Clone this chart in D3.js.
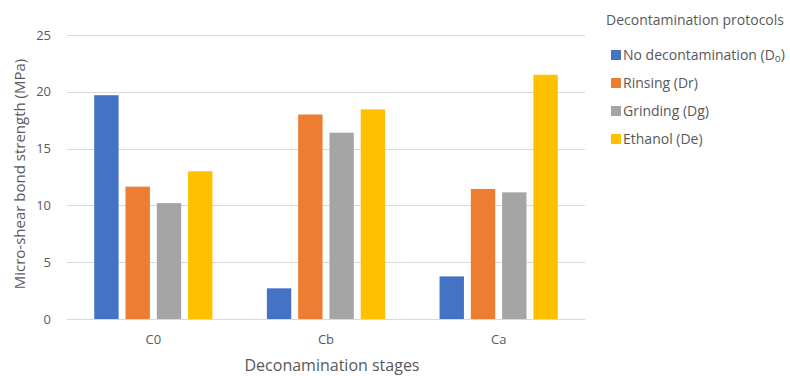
<!DOCTYPE html>
<html><head><meta charset="utf-8">
<script src="https://cdn.jsdelivr.net/npm/d3@7"></script>
<style>body{margin:0;background:#fff;} svg{display:block;} text{font-family:"Open Sans",sans-serif;fill:#595959;}</style>
</head><body><svg id="chart" width="790" height="376"></svg>
<script>
const categories = ["C0", "Cb", "Ca"];
const seriesNames = ["No decontamination (D", "Rinsing (Dr)", "Grinding (Dg)", "Ethanol (De)"];
const seriesKeys = ["Do", "Dr", "Dg", "De"];
const noDecon = [19.7, 2.7, 3.75];
const rinsing = [11.65, 18.0, 11.45];
const grinding = [10.2, 16.4, 11.15];
const ethanol = [13.0, 18.45, 21.5];
const yTicks = [0, 5, 10, 15, 20, 25];
const colors = ["#4472C4", "#ED7D31", "#A5A5A5", "#FFC000"];

const seriesValues = [noDecon, rinsing, grinding, ethanol];
const svg = d3.select("#chart");
const mLeft = 67, mRight = 585, mTop = 35, mBottom = 319;

const y = d3.scaleLinear().domain([0, 25]).range([mBottom, mTop]);
const x0 = d3.scaleBand().domain(categories).range([mLeft, mRight]).padding(0);
const x1 = d3.scaleBand().domain(seriesKeys).range([0, x0.bandwidth()]).paddingInner(0.22).paddingOuter(0.87);

// gridlines
svg.append("g").selectAll("line").data(yTicks.filter(t => t > 0)).join("line")
  .attr("x1", mLeft).attr("x2", mRight)
  .attr("y1", d => Math.round(y(d)) + 0.5).attr("y2", d => Math.round(y(d)) + 0.5)
  .attr("stroke", "#d9d9d9").attr("stroke-width", 1);

// y labels
svg.append("g").selectAll("text").data(yTicks).join("text")
  .attr("x", 51).attr("y", d => y(d)).attr("dy", "0.35em")
  .attr("text-anchor", "end").attr("font-size", 13).text(d => d);

// bars
const rows = categories.map((c, i) => ({cat: c, vals: seriesKeys.map((k, j) => ({key: k, v: seriesValues[j][i], color: colors[j]}))}));
const g = svg.append("g").selectAll("g").data(rows).join("g")
  .attr("transform", d => `translate(${x0(d.cat)},0)`);
g.selectAll("rect").data(d => d.vals).join("rect")
  .attr("x", d => x1(d.key)).attr("width", x1.bandwidth())
  .attr("y", d => y(d.v)).attr("height", d => y(0) - y(d.v))
  .attr("fill", d => d.color);

// x axis line
svg.append("line").attr("x1", mLeft).attr("x2", mRight).attr("y1", mBottom + 0.5).attr("y2", mBottom + 0.5)
  .attr("stroke", "#d9d9d9");

// x labels
svg.append("g").selectAll("text").data(categories).join("text")
  .attr("x", d => x0(d) + x0.bandwidth() / 2).attr("y", 344)
  .attr("text-anchor", "middle").attr("font-size", 13).text(d => d);

// axis titles
svg.append("text").attr("x", 332).attr("y", 371).attr("text-anchor", "middle")
  .attr("font-size", 16).text("Deconamination stages");
svg.append("text").attr("transform", `translate(25,174) rotate(-90)`)
  .attr("text-anchor", "middle").attr("font-size", 15).text("Micro-shear bond strength (MPa)");

// legend
svg.append("text").attr("x", 606).attr("y", 25).attr("font-size", 14).text("Decontamination protocols");
const lg = svg.append("g").selectAll("g").data(seriesNames).join("g")
  .attr("transform", (d, i) => `translate(611,${55 + i * 28})`);
lg.append("rect").attr("x", 0).attr("y", -5).attr("width", 10).attr("height", 10).attr("fill", (d, i) => colors[i]);
lg.append("text").attr("x", 12).attr("y", 0).attr("dy", "0.35em").attr("font-size", 14)
  .each(function(d, i) {
    const t = d3.select(this);
    t.text(d);
    if (i === 0) {
      t.append("tspan").attr("font-size", 10).attr("dy", "0.2em").text("o");
      t.append("tspan").attr("dy", "-0.2em").text(")");
    }
  });
</script></body></html>
